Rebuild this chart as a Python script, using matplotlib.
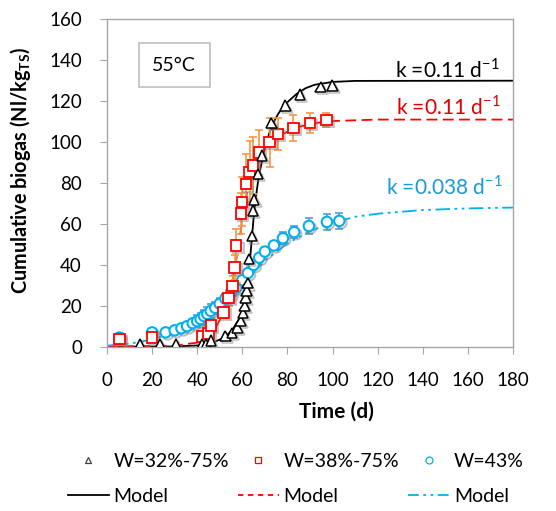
import matplotlib
matplotlib.use("Agg")
import matplotlib.pyplot as plt
import matplotlib.patheffects as pe
from matplotlib.lines import Line2D

plt.rcParams['font.family'] = ['Lato', 'DejaVu Sans']
plt.rcParams['mathtext.fontset'] = 'custom'
plt.rcParams['mathtext.rm'] = 'Lato'
plt.rcParams['mathtext.bf'] = 'Lato:bold'

# measured data, W=32%-75%
tri_x = [14.7, 23.5, 30.7, 42, 44, 46, 52.5, 55.5, 57.8, 59.2, 60.3, 61, 61.5, 61.9, 62.3,
         63, 64.2, 64.8, 65.3, 67, 68.7, 72.9, 79.1, 85.5, 94.7, 99.9]
tri_y = [1.3, 1.3, 1.3, 1.3, 1.3, 3, 5.3, 6.8, 9.3, 12.5, 16.5, 20, 24, 27.5, 31,
         43, 54, 66.5, 72, 84.5, 93.4, 109.3, 117.9, 123.3, 126.9, 127.7]

# measured data, W=38%-75%
sq_x = [5.5, 20, 42, 45, 46.2, 51.7, 53.9, 55.7, 56.6, 57.3, 59.4, 59.9, 61.6, 63.2, 64.8,
        67.3, 72.1, 75.9, 82.6, 90, 97.3]
sq_y = [3.8, 4.6, 4.9, 6.5, 10.3, 16.8, 23.8, 29.8, 38.8, 49.4, 65, 70.8, 79.4, 85.5, 88.6,
        95, 100, 104, 106.8, 109.3, 110.8]
sq_err = [1, 1, 1, 1, 1.5, 3, 4, 5, 6, 8, 10, 12, 15, 15, 14,
          11, 12, 8, 6.5, 5, 3.5]

# measured data, W=43%
ci_x = [5.5, 20, 26, 30, 33, 35.5, 38, 40, 41.5, 43, 44.5, 46, 48, 50, 52.5, 55, 57.5,
        60, 62.5, 65, 67.5, 70, 74, 78, 83, 89.5, 97.5, 103]
ci_y = [4.5, 7, 7, 8, 9, 10, 11.5, 12.5, 13.5, 15, 16, 17.5, 19, 21, 23.5, 26, 29,
        32.5, 36, 40, 43.5, 46.5, 49.5, 53, 56, 59, 61, 61.5]
ci_err = [0.5, 0.5, 0.5, 0.5, 0.5, 1, 2, 3, 3, 3, 3.5, 3.5, 3, 3, 2.5, 2, 2,
          1.5, 1.5, 1.5, 1.5, 1.5, 2, 3, 3, 4, 4, 4]

# model curves
mk_x = [0, 30, 40, 45, 48, 51, 54, 56, 58, 59, 60, 61, 62, 63, 64, 65, 66, 67, 68, 70,
        72, 74, 76, 78, 80, 84, 88, 92, 100, 110, 180]
mk_y = [0, 0.1, 0.6, 1.5, 2.5, 4, 6.5, 9, 12.5, 15, 18, 22.5, 29, 37, 50, 63, 73, 81, 87, 97,
        104.5, 110, 114, 117, 119.5, 123.5, 126.3, 128, 129.4, 129.9, 130]

mr_x = [0, 30, 40, 45, 48, 50, 52, 54, 56, 58, 60, 62, 64, 66, 68, 70, 74, 78, 84, 90,
        100, 120, 180]
mr_y = [0, 0.5, 2, 5, 9, 13, 18, 25, 34, 47, 62, 75, 84, 90, 94, 97, 101, 104, 107, 109,
        110.3, 111, 111]

mb_x = [0, 10, 20, 30, 40, 50, 60, 70, 80, 90, 100, 110, 120, 140, 160, 180]
mb_y = [0.5, 1.5, 3.5, 7, 13, 21, 31, 42, 50.5, 56.5, 60.5, 63.5, 65, 66.8, 67.6, 68]

RED = '#ff0000'
BLUE = '#00b0f0'
ORANGE = '#f79646'
EBLUE = '#5b9bd5'
GRAY = '#a6a6a6'

fig = plt.figure(figsize=(5.56, 5.11), dpi=100)
ax = fig.add_axes([0.1924, 0.3215, 0.7303, 0.6407])

shadow = [pe.SimpleLineShadow(offset=(1.5, -1.5), shadow_color='#808080', alpha=0.5), pe.Normal()]

ax.plot(mk_x, mk_y, '-', color='black', lw=1.3, zorder=2)
ax.plot(mr_x, mr_y, '--', color=RED, lw=1.3, dashes=(6, 3), zorder=2)
ax.plot(mb_x, mb_y, '-', color=BLUE, lw=1.3, dashes=(8, 2.5, 1.5, 2.5, 1.5, 2.5), zorder=2)

ax.errorbar(sq_x, sq_y, yerr=sq_err, fmt='none', ecolor=ORANGE, elinewidth=1.2,
            capsize=3, capthick=1.2, zorder=3)
ax.errorbar(ci_x, ci_y, yerr=ci_err, fmt='none', ecolor=EBLUE, elinewidth=1.2,
            capsize=3, capthick=1.2, zorder=3)

ax.plot(ci_x, ci_y, 'o', ms=7.5, mfc='white', mec=BLUE, mew=1.5, ls='none',
        zorder=4, path_effects=shadow)
ax.plot(sq_x, sq_y, 's', ms=7.5, mfc='white', mec=RED, mew=1.3, ls='none',
        zorder=5, path_effects=shadow)
ax.plot(tri_x, tri_y, '^', ms=7.5, mfc='white', mec='black', mew=1.1, ls='none',
        zorder=6, path_effects=shadow)

ax.set_xlim(0, 180)
ax.set_ylim(0, 160)
ax.set_xticks(range(0, 181, 20))
ax.set_yticks(range(0, 161, 20))
for s in ax.spines.values():
    s.set_color(GRAY)
    s.set_linewidth(1.0)
ax.tick_params(direction='out', length=5, color=GRAY, labelsize=13.5, pad=13)

ax.set_xlabel('Time (d)', fontsize=15, fontweight='bold', labelpad=9, x=0.564)
ax.set_ylabel(r'Cumulative biogas (Nl/kg$_\mathbf{TS}$)', fontsize=14.3,
              fontweight='bold', labelpad=12, y=0.537)

ax.text(29.8, 137.6, u'55\u00b0C', fontsize=14, ha='center', va='center',
        bbox=dict(boxstyle='square,pad=0.7', fc='white', ec='#bfbfbf', lw=1.2))

ax.text(174, 135.5, r'k =0.11 d$^{-1}$', fontsize=15, color='black', ha='right', va='center')
ax.text(174.5, 117.3, r'k =0.11 d$^{-1}$', fontsize=15, color='#e00000', ha='right', va='center')
ax.text(175.5, 78.5, r'k =0.038 d$^{-1}$', fontsize=15, color='#1a9ad6', ha='right', va='center')

handles = [
    Line2D([], [], marker='^', ls='none', mfc='white', mec='#404040', ms=5, mew=0.9),
    Line2D([], [], color='black', lw=1.3),
    Line2D([], [], marker='s', ls='none', mfc='white', mec=RED, ms=5, mew=0.9),
    Line2D([], [], color=RED, lw=1.3, dashes=(3, 2.5)),
    Line2D([], [], marker='o', ls='none', mfc='white', mec=BLUE, ms=5, mew=0.9),
    Line2D([], [], color=BLUE, lw=1.3, dashes=(6, 2.5, 1.5, 2.5, 1.5, 2.5)),
]
labels = ['W=32%-75%', 'Model', 'W=38%-75%', 'Model', 'W=43%', 'Model']
fig.legend(handles, labels, ncol=3, loc='center', bbox_to_anchor=(0.532, 0.0626),
           frameon=False, fontsize=14, handlelength=2.1, handletextpad=0.26,
           columnspacing=0.45, labelspacing=0.95, borderpad=0.2)

fig.savefig('out.png', dpi=100)
